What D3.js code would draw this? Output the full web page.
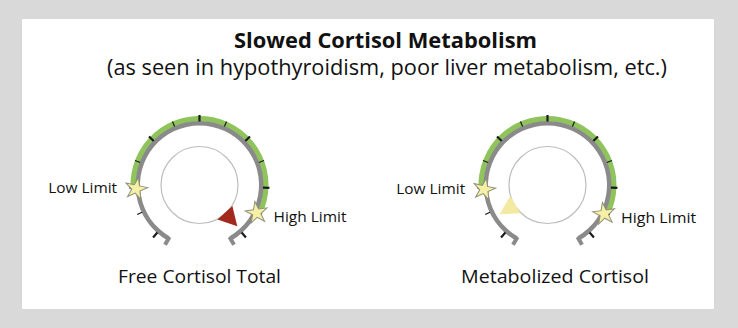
<!DOCTYPE html>
<html><head><meta charset="utf-8">
<script src="https://cdn.jsdelivr.net/npm/d3@7"></script>
<style>html,body{margin:0;padding:0;background:#d9d9d9;}svg{display:block;}</style>
</head><body>
<script>
// ---- data ----
const gaugeNames = ["Free Cortisol Total", "Metabolized Cortisol"];
const markerValues = [12.46, 1.24];          // position of the pointer on the 0..13 dial
const markerColors = ["#a3291c", "#f3e9a0"];
const lowLimits = [2.45, 2.43];
const highLimits = [11.53, 11.57];
const tickValues = [0.5, 1.5, 2.5, 3.5, 4.5, 5.5, 6.5, 7.5, 8.5, 9.5, 10.5, 11.5, 12.5];
const majorTicks = [0.5, 2.5, 4.5, 6.5, 8.5, 10.5, 12.5];
const limitLabels = ["Low Limit", "High Limit"];
const title = "Slowed Cortisol Metabolism";
const subtitle = "(as seen in hypothyroidism, poor liver metabolism, etc.)";

const W = 738, H = 328;
const svg = d3.select("body").append("svg").attr("width", W).attr("height", H);
svg.append("rect").attr("x", 0).attr("y", 0).attr("width", W).attr("height", H).attr("fill", "#d9d9d9");
svg.append("rect").attr("x", 22).attr("y", 19).attr("width", 692).attr("height", 290).attr("fill", "#fff");

svg.append("text").attr("x", 385.5).attr("y", 48).attr("text-anchor", "middle")
  .attr("font-family", "Open Sans").attr("font-weight", 700).attr("font-size", 21)
  .attr("textLength", 303).attr("lengthAdjust", "spacingAndGlyphs")
  .attr("fill", "#111").text(title);
svg.append("text").attr("x", 387).attr("y", 75).attr("text-anchor", "middle")
  .attr("font-family", "Open Sans").attr("font-size", 21)
  .attr("textLength", 560).attr("lengthAdjust", "spacingAndGlyphs")
  .attr("fill", "#111").text(subtitle);

const angle = d3.scaleLinear().domain([0, 13]).range([-150, 150]);
const rad = d => angle(d) * Math.PI / 180;
const centers = d3.scaleOrdinal().domain(gaugeNames).range([199.5, 547.5]);
const cy = 185;
const pt = (v, r) => [Math.sin(rad(v)) * r, -Math.cos(rad(v)) * r];

const arcGen = d3.arc();
const star = d3.symbol().type(d3.symbolStar).size(150);
const limitLens = [[69, 73], [69, 75]];
const nameLens = [163, 188];

gaugeNames.forEach((name, i) => {
  const g = svg.append("g").attr("transform", `translate(${centers(name)},${cy})`);
  // green normal range
  g.append("path").attr("fill", "#8fc35c")
    .attr("d", arcGen({innerRadius: 63.5, outerRadius: 69, startAngle: rad(lowLimits[i]), endAngle: rad(highLimits[i])}));
  // gray dial
  g.append("path").attr("fill", "#8a8a8a")
    .attr("d", arcGen({innerRadius: 59.5, outerRadius: 64, startAngle: rad(0), endAngle: rad(13)}));
  // end caps
  [0, 13].forEach(v => {
    const a = pt(v, 60), b = pt(v, 69);
    g.append("line").attr("x1", a[0]).attr("y1", a[1]).attr("x2", b[0]).attr("y2", b[1])
      .attr("stroke", "#8a8a8a").attr("stroke-width", 4);
  });
  // ticks
  tickValues.forEach(v => {
    const major = majorTicks.includes(v);
    const a = pt(v, 63.5), b = pt(v, major ? 70 : 69);
    g.append("line").attr("x1", a[0]).attr("y1", a[1]).attr("x2", b[0]).attr("y2", b[1])
      .attr("stroke", "#1a1a1a").attr("stroke-width", major ? 2.2 : 1.2);
  });
  // inner circle
  g.append("circle").attr("r", 38.5).attr("fill", "#fff").attr("stroke", "#bdbdbd").attr("stroke-width", 1.2);
  // marker
  const v = markerValues[i];
  const dv = 15 / 23.077;
  const tri = [pt(v, 56), pt(v - dv, 39), pt(v + dv, 39)];
  g.append("path").attr("d", "M" + tri.map(p => p.join(",")).join("L") + "Z").attr("fill", markerColors[i]);
  // limit stars
  [lowLimits[i], highLimits[i]].forEach((lv, j) => {
    const p = pt(lv, 63.5);
    g.append("path").attr("d", star).attr("transform", `translate(${p[0]},${p[1]}) rotate(${j ? -8 : 12})`)
      .attr("fill", "#f6f0a4").attr("stroke", "#8f8f7a").attr("stroke-width", 1);
    g.append("text").attr("x", j ? p[0] + 17 : p[0] - 19).attr("y", p[1] + (j ? 9 : 4.5))
      .attr("text-anchor", j ? "start" : "end")
      .attr("textLength", limitLens[i][j]).attr("lengthAdjust", "spacingAndGlyphs")
      .attr("font-family", "Open Sans").attr("font-size", 15).attr("fill", "#111").text(limitLabels[j]);
  });
  // gauge name
  svg.append("text").attr("x", centers(name) + (i ? 7.5 : 0)).attr("y", 283).attr("text-anchor", "middle")
    .attr("textLength", nameLens[i]).attr("lengthAdjust", "spacingAndGlyphs")
    .attr("font-family", "Open Sans").attr("font-size", 19).attr("fill", "#111").text(name);
});
</script>
</body></html>
